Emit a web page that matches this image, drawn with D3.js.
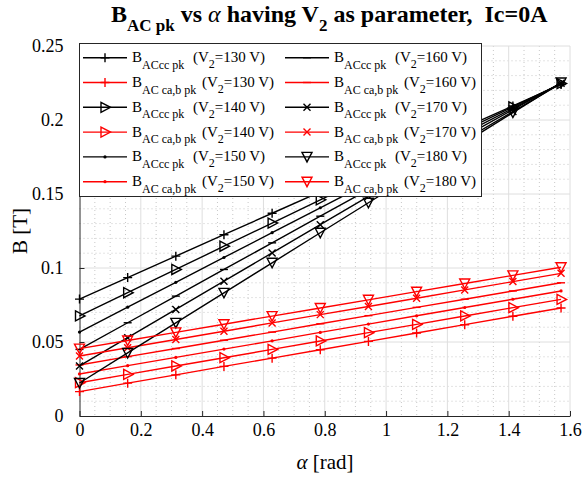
<!DOCTYPE html>
<html>
<head>
<meta charset="utf-8">
<script src="https://cdn.jsdelivr.net/npm/d3@7"></script>
<style>
body { margin: 0; background: #fff; }
text { font-family: "Liberation Serif", "Times New Roman", serif; white-space: pre; }
</style>
</head>
<body>
<div id="chart"></div>
<script>
// alpha [rad], pi/20 steps
var alpha = [0, 0.1571, 0.3142, 0.4712, 0.6283, 0.7854, 0.9425, 1.0996, 1.2566, 1.4137, 1.5708];
var v2 = [130, 140, 150, 160, 170, 180];
var markerTypes = ["plus", "triRight", "dot", "dash", "cross", "triDown"];

// B_ACcc pk (black)
var bcc130 = [0.0790, 0.0935, 0.1080, 0.1225, 0.1370, 0.1515, 0.1660, 0.1805, 0.1950, 0.2095, 0.2240];
var bcc140 = [0.0676, 0.0833, 0.0990, 0.1147, 0.1304, 0.1461, 0.1618, 0.1775, 0.1932, 0.2089, 0.2246];
var bcc150 = [0.0567, 0.0735, 0.0903, 0.1071, 0.1239, 0.1407, 0.1575, 0.1743, 0.1911, 0.2079, 0.2247];
var bcc160 = [0.0450, 0.0630, 0.0810, 0.0990, 0.1170, 0.1350, 0.1530, 0.1710, 0.1890, 0.2070, 0.2250];
var bcc170 = [0.0338, 0.0529, 0.0720, 0.0911, 0.1102, 0.1293, 0.1484, 0.1675, 0.1866, 0.2057, 0.2248];
var bcc180 = [0.0223, 0.0426, 0.0629, 0.0832, 0.1035, 0.1238, 0.1441, 0.1644, 0.1847, 0.2050, 0.2253];

// B_AC ca,b pk (red)
var bca130 = [0.0165, 0.0222, 0.0278, 0.0335, 0.0391, 0.0448, 0.0504, 0.0561, 0.0617, 0.0674, 0.0730];
var bca140 = [0.0225, 0.0281, 0.0338, 0.0394, 0.0450, 0.0507, 0.0563, 0.0619, 0.0676, 0.0732, 0.0788];
var bca150 = [0.0284, 0.0340, 0.0396, 0.0452, 0.0508, 0.0565, 0.0621, 0.0677, 0.0733, 0.0789, 0.0845];
var bca160 = [0.0345, 0.0401, 0.0456, 0.0512, 0.0567, 0.0623, 0.0678, 0.0734, 0.0789, 0.0845, 0.0900];
var bca170 = [0.0405, 0.0461, 0.0517, 0.0573, 0.0629, 0.0685, 0.0740, 0.0796, 0.0852, 0.0908, 0.0964];
var bca180 = [0.0455, 0.0510, 0.0565, 0.0620, 0.0675, 0.0730, 0.0785, 0.0840, 0.0895, 0.0950, 0.1005];

var xTicks = [0, 0.2, 0.4, 0.6, 0.8, 1, 1.2, 1.4, 1.6];
var yTicks = [0, 0.05, 0.1, 0.15, 0.2, 0.25];

var ccSets = [bcc130, bcc140, bcc150, bcc160, bcc170, bcc180];
var caSets = [bca130, bca140, bca150, bca160, bca170, bca180];

// plot order: cc then ca for each V2
var series = [];
v2.forEach(function (v, i) {
    series.push({ kind: "cc", v: v, marker: markerTypes[i], color: "#000", values: ccSets[i] });
    series.push({ kind: "ca", v: v, marker: markerTypes[i], color: "#ff0000", values: caSets[i] });
});

var W = 585, H = 478;
var pLeft = 79.5, pRight = 570, pTop = 46, pBottom = 416;

var svg = d3.select("#chart").append("svg")
    .attr("width", W)
    .attr("height", H);

var x = d3.scaleLinear().domain([0, 1.6]).range([pLeft, pRight]);
var y = d3.scaleLinear().domain([0, 0.25]).range([pBottom, pTop]);

// grid - minor dotted
var grid = svg.append("g").attr("class", "grid");
grid.selectAll(".xminor")
    .data(d3.range(1, 32).map(function (i) { return i * 0.05; }).filter(function (d, i) { return (i + 1) % 4 != 0; }))
    .enter().append("line")
    .attr("x1", function (d) { return x(d); }).attr("x2", function (d) { return x(d); })
    .attr("y1", pTop).attr("y2", pBottom)
    .attr("stroke", "#c8c8c8").attr("stroke-width", 1).attr("stroke-dasharray", "1,3");
grid.selectAll(".yminor")
    .data(d3.range(1, 25).map(function (i) { return i * 0.01; }).filter(function (d, i) { return (i + 1) % 5 != 0; }))
    .enter().append("line")
    .attr("y1", function (d) { return y(d); }).attr("y2", function (d) { return y(d); })
    .attr("x1", pLeft).attr("x2", pRight)
    .attr("stroke", "#c8c8c8").attr("stroke-width", 1).attr("stroke-dasharray", "1,3");
// major solid
grid.selectAll(".xmajor")
    .data(xTicks.slice(1))
    .enter().append("line")
    .attr("x1", function (d) { return x(d); }).attr("x2", function (d) { return x(d); })
    .attr("y1", pTop).attr("y2", pBottom)
    .attr("stroke", "#dedede").attr("stroke-width", 1);
grid.selectAll(".ymajor")
    .data(yTicks.slice(1))
    .enter().append("line")
    .attr("y1", function (d) { return y(d); }).attr("y2", function (d) { return y(d); })
    .attr("x1", pLeft).attr("x2", pRight)
    .attr("stroke", "#dedede").attr("stroke-width", 1);

// axes
var xAxis = svg.append("g")
    .attr("transform", "translate(0," + pBottom + ")")
    .call(d3.axisBottom(x).tickValues(xTicks).tickFormat(d3.format("")).tickSizeInner(-5).tickSizeOuter(0).tickPadding(7));
var yAxis = svg.append("g")
    .attr("transform", "translate(" + pLeft + ",0)")
    .call(d3.axisLeft(y).tickValues(yTicks).tickFormat(d3.format("")).tickSizeInner(-5).tickSizeOuter(0).tickPadding(16));
[xAxis, yAxis].forEach(function (a) {
    a.selectAll("text").style("font-size", "18px").attr("fill", "#000").style("font-family", "Liberation Serif");
    a.selectAll("line").attr("stroke", "#262626");
    a.select(".domain").attr("stroke", "#262626");
});

// marker shapes
function markerPath(type) {
    switch (type) {
        case "plus": return "M-4.5,0H4.5M0,-4.5V4.5";
        case "triRight": return "M-4,-5L5.5,0L-4,5Z";
        case "dash": return "M-4,0H4";
        case "cross": return "M-3.5,-3.5L3.5,3.5M-3.5,3.5L3.5,-3.5";
        case "triDown": return "M-5,-4.5L5,-4.5L0,5Z";
    }
    return null;
}
function drawMarker(g, type, cx, cy, color) {
    if (type == "dot") {
        g.append("circle").attr("cx", cx).attr("cy", cy).attr("r", 1.6).attr("fill", color);
    } else {
        g.append("path").attr("d", markerPath(type))
            .attr("transform", "translate(" + cx + "," + cy + ")")
            .attr("fill", "none").attr("stroke", color).attr("stroke-width", 1.4);
    }
}

var line = d3.line()
    .x(function (d, i) { return x(alpha[i]); })
    .y(function (d) { return y(d); });

var plot = svg.append("g");
series.forEach(function (s) {
    var g = plot.append("g");
    g.append("path")
        .attr("d", line(s.values))
        .attr("fill", "none")
        .attr("stroke", s.color)
        .attr("stroke-width", 1.4);
    s.values.forEach(function (d, i) {
        drawMarker(g, s.marker, x(alpha[i]), y(d), s.color);
    });
});

// legend
var leg = svg.append("g");
leg.append("rect")
    .attr("x", 79.5).attr("y", 43.5)
    .attr("width", 402).attr("height", 153)
    .attr("fill", "#fff").attr("stroke", "#262626").attr("stroke-width", 1);

series.forEach(function (s, i) {
    var col = i < 6 ? 0 : 1;
    var row = i % 6;
    var lx = col == 0 ? 83 : 285;
    var ly = 57.7 + row * 24.8;
    var g = leg.append("g");
    g.append("line").attr("x1", lx).attr("x2", lx + 44).attr("y1", ly).attr("y2", ly)
        .attr("stroke", s.color).attr("stroke-width", 1.4);
    drawMarker(g, s.marker, lx + 22, ly, s.color);
    var tx = lx + 49;
    var t = g.append("text").attr("x", tx).attr("y", ly + 4.5).style("font-size", "15px").attr("fill", "#000");
    t.append("tspan").text("B");
    t.append("tspan").attr("dy", 6.5).style("font-size", "12px")
        .text(s.kind == "cc" ? "ACcc pk" : "AC ca,b pk");
    var t2 = g.append("text").attr("x", tx + (s.kind == "cc" ? 61 : 70)).attr("y", ly + 4.5)
        .style("font-size", "15px").attr("fill", "#000");
    t2.append("tspan").text("(V");
    t2.append("tspan").attr("dy", 6).style("font-size", "12px").text("2");
    t2.append("tspan").attr("dy", -6).text("=" + s.v + " V)");
});

// title
var title = svg.append("text")
    .attr("x", 111).attr("y", 22)
    .style("font-size", "24px").style("font-weight", "bold").attr("fill", "#000");
title.append("tspan").text("B");
title.append("tspan").attr("dy", 9).style("font-size", "17px").text("AC pk");
title.append("tspan").attr("dy", -9).text(" vs ");
title.append("tspan").style("font-style", "italic").style("font-weight", "normal").text("\u03b1");
title.append("tspan").text(" having V");
title.append("tspan").attr("dy", 9).style("font-size", "17px").text("2");
title.append("tspan").attr("dy", -9).text(" as parameter,  Ic=0A");

// axis labels
var xl = svg.append("text")
    .attr("x", 325).attr("y", 469)
    .attr("text-anchor", "middle")
    .style("font-size", "21px").attr("fill", "#000");
xl.append("tspan").style("font-style", "italic").text("\u03b1");
xl.append("tspan").text(" [rad]");

svg.append("text")
    .attr("transform", "translate(27,231) rotate(-90)")
    .attr("text-anchor", "middle")
    .style("font-size", "21px").attr("fill", "#000")
    .text("B [T]");
</script>
</body>
</html>
